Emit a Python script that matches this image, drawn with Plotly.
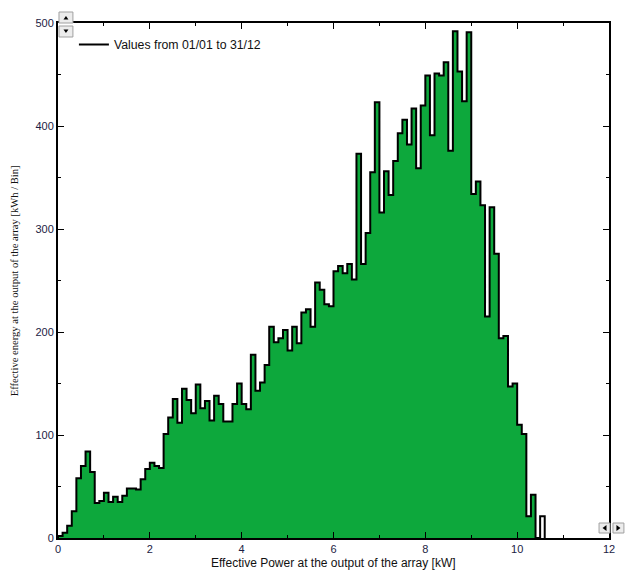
import plotly.graph_objects as go

# ---- data ----
bin_width = 0.1
energy = [2, 5, 12, 26, 58, 70, 84, 64, 34, 36,
          44, 35, 40, 35, 41, 48, 48, 47, 57, 67,
          73, 70, 68, 101, 117, 135, 112, 145, 134, 121,
          149, 126, 133, 114, 138, 130, 113, 113, 130, 150,
          130, 125, 178, 143, 151, 168, 205, 190, 194, 202,
          182, 205, 189, 219, 222, 205, 248, 241, 227, 225,
          259, 264, 257, 266, 251, 373, 266, 296, 355, 423,
          316, 356, 333, 366, 393, 406, 382, 417, 359, 420,
          449, 391, 451, 449, 462, 376, 492, 453, 424, 491,
          334, 346, 323, 215, 321, 276, 194, 196, 147, 150,
          110, 101, 21, 42, 0, 21]
legend_name = "Values from 01/01 to 31/12"
x_title = "Effective Power at the output of the array [kW]"
y_title = "Effective energy at the output of the array [kWh / Bin]"

edges = [round(i * bin_width, 4) for i in range(len(energy) + 1)]

# outline (all bins)
ox = [0.0] + edges[:-1] + [edges[-1], edges[-1]]
oy = [0] + energy + [energy[-1], 0]

# fill up to the first empty bin
n_fill = energy.index(0) + 1 if 0 in energy else len(energy)
fx = [0.0] + edges[:n_fill] + [edges[n_fill]]
fy = [0] + energy[:n_fill] + [energy[n_fill - 1]]

GREEN = "#0da83c"
fig = go.Figure()
fig.add_trace(go.Scatter(x=fx, y=fy, mode="lines", line=dict(width=0, shape="hv"),
                         fill="tozeroy", fillcolor=GREEN, showlegend=False,
                         hoverinfo="skip"))
fig.add_trace(go.Scatter(x=ox, y=oy, mode="lines", name=legend_name,
                         line=dict(color="black", width=2, shape="hv")))

W, H = 627, 571
L, R, T, B = 58, 15, 23, 33
PW, PH = W - L - R, H - T - B


def px(xp):
    return (xp - L) / PW


def py(yp):
    return (H - B - yp) / PH


tickfont = dict(family="Liberation Sans, Arial", size=11, color="#1c1c44")
fig.update_layout(
    width=W, height=H,
    margin=dict(l=L, r=R, t=T, b=B),
    paper_bgcolor="white", plot_bgcolor="white",
    showlegend=True,
    legend=dict(x=px(74), y=py(30), xanchor="left", yanchor="top",
                bgcolor="rgba(0,0,0,0)", borderwidth=0,
                font=dict(family="Liberation Sans, Arial", size=12.3, color="#111"),
                itemwidth=30),
    xaxis=dict(range=[0, 12], dtick=2, tick0=0, showgrid=False, zeroline=False,
               showline=True, linecolor="black", linewidth=2, mirror="ticks",
               ticks="inside", ticklen=6, tickcolor="black", tickwidth=1,
               minor=dict(dtick=1, ticks="inside", ticklen=3, tickcolor="black", showgrid=False),
               tickfont=tickfont),
    yaxis=dict(range=[0, 500], dtick=100, tick0=0, showgrid=False, zeroline=False,
               showline=True, linecolor="black", linewidth=2, mirror="ticks",
               ticks="inside", ticklen=6, tickcolor="black", tickwidth=1,
               minor=dict(dtick=50, ticks="inside", ticklen=3, tickcolor="black", showgrid=False),
               tickfont=tickfont),
)

fig.add_annotation(x=0.5, y=py(563), xref="paper", yref="paper", text=x_title,
                   showarrow=False, xanchor="center", yanchor="middle",
                   font=dict(family="Liberation Sans, Arial", size=12, color="#111"))
fig.add_annotation(x=px(14), y=py(281), xref="paper", yref="paper", text=y_title,
                   showarrow=False, textangle=-90, xanchor="center", yanchor="middle",
                   font=dict(family="Liberation Serif, Times New Roman", size=10.6, color="#111"))

# scroll-button widgets
def button(x0, y0, x1, y1, tri):
    fig.add_shape(type="rect", xref="paper", yref="paper",
                  x0=px(x0), x1=px(x1), y0=py(y1), y1=py(y0),
                  fillcolor="#ececec", line=dict(color="#a0a0a0", width=1), layer="above")
    pts = " L".join(f"{px(a)},{py(b)}" for a, b in tri)
    fig.add_shape(type="path", xref="paper", yref="paper", path="M" + pts + " Z",
                  fillcolor="black", line=dict(color="black", width=0), layer="above")

button(59, 12, 73, 23, [(63.5, 19.5), (68.5, 19.5), (66, 16)])
button(59, 26, 73, 37, [(63.5, 29.5), (68.5, 29.5), (66, 33)])
button(602, 523, 613, 533, [(609.5, 525), (609.5, 531), (605.5, 528)])
button(616, 523, 627, 533, [(619.5, 525), (619.5, 531), (623.5, 528)])

fig.write_html("out.html")
